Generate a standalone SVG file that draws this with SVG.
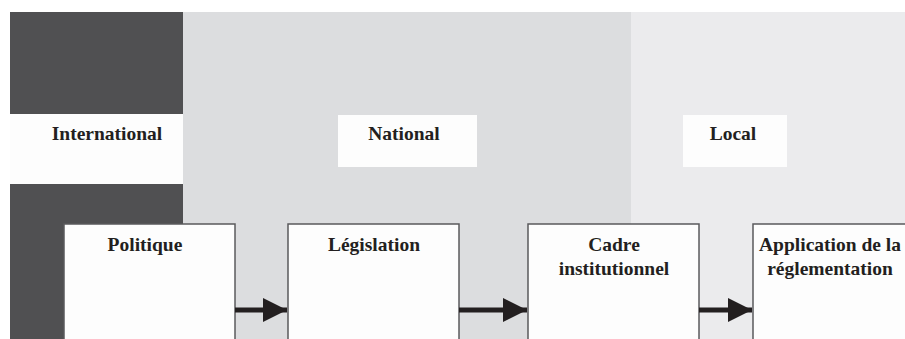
<svg xmlns="http://www.w3.org/2000/svg" width="905" height="339" viewBox="0 0 905 339">
<style>
.lbl{font-family:"Liberation Serif","Times New Roman",serif;font-weight:bold;font-size:19.5px;fill:#231f20;text-anchor:middle}
.node{fill:#fdfdfd;stroke:#5a5a5c;stroke-width:1.5}
.shaft{stroke:#231f20;stroke-width:5}
</style>
<defs>
<marker id="ah" markerWidth="24" markerHeight="24" viewBox="0 0 24 24" refX="24" refY="12" markerUnits="userSpaceOnUse" orient="auto">
<path d="M0,0 L24,12 L0,24 Z" fill="#231f20"/>
</marker>
</defs>
<rect width="905" height="339" fill="#ffffff"/>
<g id="bands">
<rect x="10" y="12" width="173" height="327" fill="#505052"/>
<rect x="183" y="12" width="448" height="327" fill="#dcdddf"/>
<rect x="631" y="12" width="274" height="327" fill="#ebebed"/>
</g>
<g id="international">
<rect x="10" y="114" width="173" height="70" fill="#fdfdfd"/>
<text class="lbl" x="107" y="140">International</text>
</g>
<g id="national">
<rect x="338" y="115" width="139" height="52" fill="#fdfdfd"/>
<text class="lbl" x="404" y="140">National</text>
</g>
<g id="local">
<rect x="683" y="115" width="104" height="52" fill="#fdfdfd"/>
<text class="lbl" x="733" y="140">Local</text>
</g>
<g id="politique">
<rect class="node" x="64" y="224" width="171" height="120"/>
<text class="lbl" x="145" y="251">Politique</text>
</g>
<g id="legislation">
<rect class="node" x="288" y="224" width="171" height="120"/>
<text class="lbl" x="374" y="251">Législation</text>
</g>
<g id="cadre">
<rect class="node" x="528" y="224" width="171" height="120"/>
<text class="lbl" x="614" y="251">Cadre</text>
<text class="lbl" x="614" y="275">institutionnel</text>
</g>
<g id="application">
<rect class="node" x="753" y="224" width="171" height="120"/>
<text class="lbl" x="830" y="251">Application de la</text>
<text class="lbl" x="830" y="275">réglementation</text>
</g>
<g id="connectors">
<line class="shaft" x1="235" y1="310" x2="287" y2="310" marker-end="url(#ah)"/>
<line class="shaft" x1="459" y1="310" x2="527" y2="310" marker-end="url(#ah)"/>
<line class="shaft" x1="699" y1="310" x2="752" y2="310" marker-end="url(#ah)"/>
</g>
</svg>
